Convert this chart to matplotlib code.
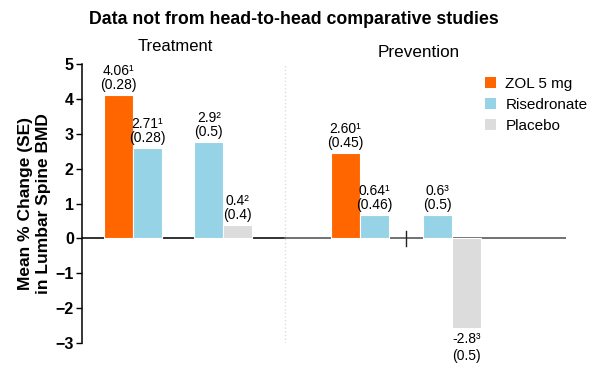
import numpy as np
import matplotlib.pyplot as plt

plt.rcParams['font.family'] = ['Liberation Sans', 'DejaVu Sans']

# bar heights, label text as printed on the chart
groups = ['Treatment', 'Prevention']
series = ['ZOL 5 mg', 'Risedronate', 'Placebo']
colors = {'ZOL 5 mg': '#ff6600', 'Risedronate': '#96d3e6', 'Placebo': '#dcdcdc'}

bar_series = ['ZOL 5 mg', 'Risedronate', 'Risedronate', 'Placebo',
              'ZOL 5 mg', 'Risedronate', 'Risedronate', 'Placebo']
bar_values = [4.11, 2.60, 2.77, 0.38, 2.46, 0.67, 0.67, -2.57]
bar_means = ['4.06\u00b9', '2.71\u00b9', '2.9\u00b2', '0.4\u00b2',
             '2.60\u00b9', '0.64\u00b9', '0.6\u00b3', '-2.8\u00b3']
bar_se = ['(0.28)', '(0.28)', '(0.5)', '(0.4)',
          '(0.45)', '(0.46)', '(0.5)', '(0.5)']

# layout: pair centres in bar-width units
pair_centres = [1.74, 4.87, 9.58, 12.78]
positions = []
for c in pair_centres:
    positions += [c - 0.5, c + 0.5]

fig = plt.figure(figsize=(6, 3.7), dpi=100)
ax = fig.add_axes([0.137, 0.073, 0.806, 0.754])

ax.plot([0, 7], [0, 0], color='#222222', lw=1.3, zorder=1)
ax.plot([7, 16.7], [0, 0], color='#666666', lw=1.3, zorder=1)
ax.plot([11.17, 11.17], [-0.22, 0.22], color='#222222', lw=1, zorder=1)
ax.axvline(7.0, ymin=0.0, ymax=1.0, color='#dddddd', lw=1, ls=':', zorder=0)

for x, s, v, m, se in zip(positions, bar_series, bar_values, bar_means, bar_se):
    ax.bar(x, v, width=1.0, color=colors[s], edgecolor='white', lw=0.8, zorder=2)
    if v >= 0:
        ax.text(x, v + 0.08, m + '\n' + se, ha='center', va='bottom',
                fontsize=10, linespacing=1.0)
    else:
        ax.text(x, v - 0.12, m + '\n' + se, ha='center', va='top',
                fontsize=10, linespacing=1.25)

for name in series:
    ax.bar(np.nan, np.nan, color=colors[name], label=name)
leg = ax.legend(loc='upper left', bbox_to_anchor=(0.82, 0.975), frameon=False,
                fontsize=11, handlelength=0.75, handleheight=0.75,
                handletextpad=0.6, labelspacing=0.45, borderaxespad=0)

ax.set_xlim(0, 16.7)
ax.set_ylim(-3, 5)
ax.set_yticks(range(-3, 6))
ax.tick_params(axis='y', length=4, width=1, labelsize=11.5, pad=2)
for lab in ax.get_yticklabels():
    lab.set_fontweight('bold')
ax.set_xticks([])
for side in ['top', 'right', 'bottom']:
    ax.spines[side].set_visible(False)
ax.spines['left'].set_linewidth(1.1)

ax.set_ylabel('Mean % Change (SE)\nin Lumbar Spine BMD', fontsize=12.5,
              fontweight='bold', labelpad=3, linespacing=1.3)

fig.text(0.49, 0.948, 'Data not from head-to-head comparative studies',
         ha='center', va='center', fontsize=12.8, fontweight='bold')
fig.text(0.292, 0.873, groups[0], ha='center', va='center', fontsize=12)
fig.text(0.698, 0.857, groups[1], ha='center', va='center', fontsize=12.3)

fig.savefig('out.png', dpi=100)
